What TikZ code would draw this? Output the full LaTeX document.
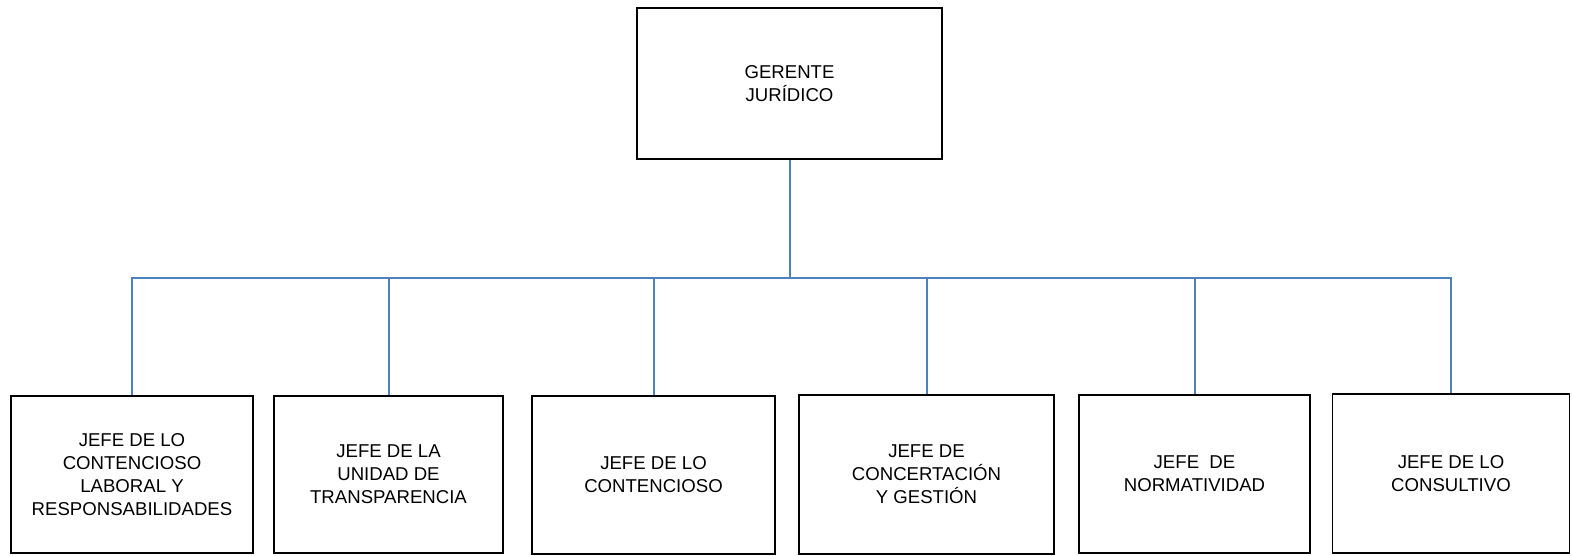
\documentclass[tikz,border=0pt]{standalone}
\usepackage{fontspec}
\setmainfont{Liberation Sans}
\usepackage{tikz}

\begin{document}
\begin{tikzpicture}[x=1pt,y=1pt,
    puesto/.style={draw=black,line width=1.6pt,inner sep=0pt,align=center,
      font=\fontsize{18.6}{23}\selectfont},
    enlace/.style={draw={rgb,255:red,79;green,129;blue,189},line width=2pt}]
          \useasboundingbox (0,0) rectangle (1572,555);
          \node (0) [puesto,minimum width=305,minimum height=151] at (789.5,471.5) {GERENTE\\JURÍDICO};
          \node (1) [puesto,minimum width=242,minimum height=157] at (132,80.5) {JEFE DE LO\\CONTENCIOSO\\LABORAL Y\\RESPONSABILIDADES};
          \node (2) [puesto,minimum width=229,minimum height=157] at (388.5,80.5) {JEFE DE LA\\UNIDAD DE\\TRANSPARENCIA};
          \node (3) [puesto,minimum width=243,minimum height=158] at (653.5,80) {JEFE DE LO\\CONTENCIOSO};
          \node (4) [puesto,minimum width=255,minimum height=159] at (926.5,80.5) {JEFE DE\\CONCERTACIÓN\\Y GESTIÓN};
          \node (5) [puesto,minimum width=231,minimum height=158] at (1194.5,81) {JEFE \ DE\\NORMATIVIDAD};
          \node (6) [puesto,minimum width=237,minimum height=159] at (1451,81.5) {JEFE DE LO\\CONSULTIVO};

          \draw[enlace] (0.south) -- ++(0,-118) coordinate (hub);
		  \foreach \n in {1,...,6}
			\draw[enlace] (hub) -| (\n.north);

        \end{tikzpicture}
\end{document}
